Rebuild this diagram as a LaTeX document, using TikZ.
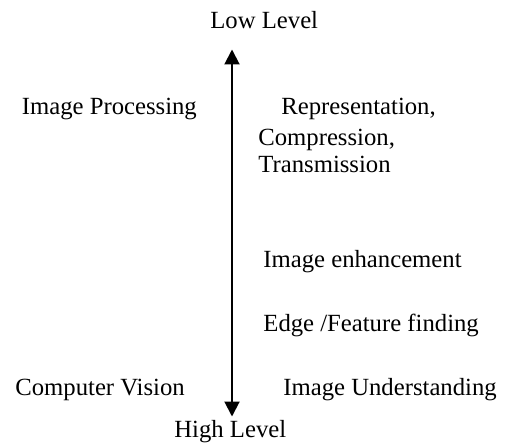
\documentclass[tikz,border=0pt]{standalone}
\usepackage{fontspec}
\setmainfont{Liberation Serif}
\usetikzlibrary{arrows.meta}
\begin{document}
\begin{tikzpicture}[x=0.5pt,y=-0.5pt,
  lbl/.style={anchor=base west,inner sep=0pt,font=\fontsize{12.35}{14}\selectfont},
  scaleaxis/.style={line width=1pt,{Triangle[length=7.5pt,width=7.5pt]}-{Triangle[length=7.5pt,width=7.5pt]}}]
  \useasboundingbox (0,0) rectangle (506,443);
  % level labels at the ends of the axis
  \node[lbl] (low) at (210,29) {Low Level};
  \node[lbl] (high) at (174,437) {High Level};
  % vertical axis from low to high level
  \coordinate (axtop) at (232,49.5);
  \coordinate (axbot) at (232,416.5);
  \draw[scaleaxis] (axtop) -- (axbot);
  % fields on the left
  \node[lbl] (ip) at (21.5,115) {Image Processing};
  \node[lbl] (cv) at (15,395) {Computer Vision};
  % tasks on the right
  \node[lbl] (rep) at (281,115) {Representation,};
  \node[lbl] (comp) at (258,145) {Compression,};
  \node[lbl] (trans) at (258,172) {Transmission};
  \node[lbl] (enh) at (263,267) {Image enhancement};
  \node[lbl] (edge) at (263,331) {Edge /Feature finding};
  \node[lbl] (und) at (283,395) {Image Understanding};
\end{tikzpicture}
\end{document}
